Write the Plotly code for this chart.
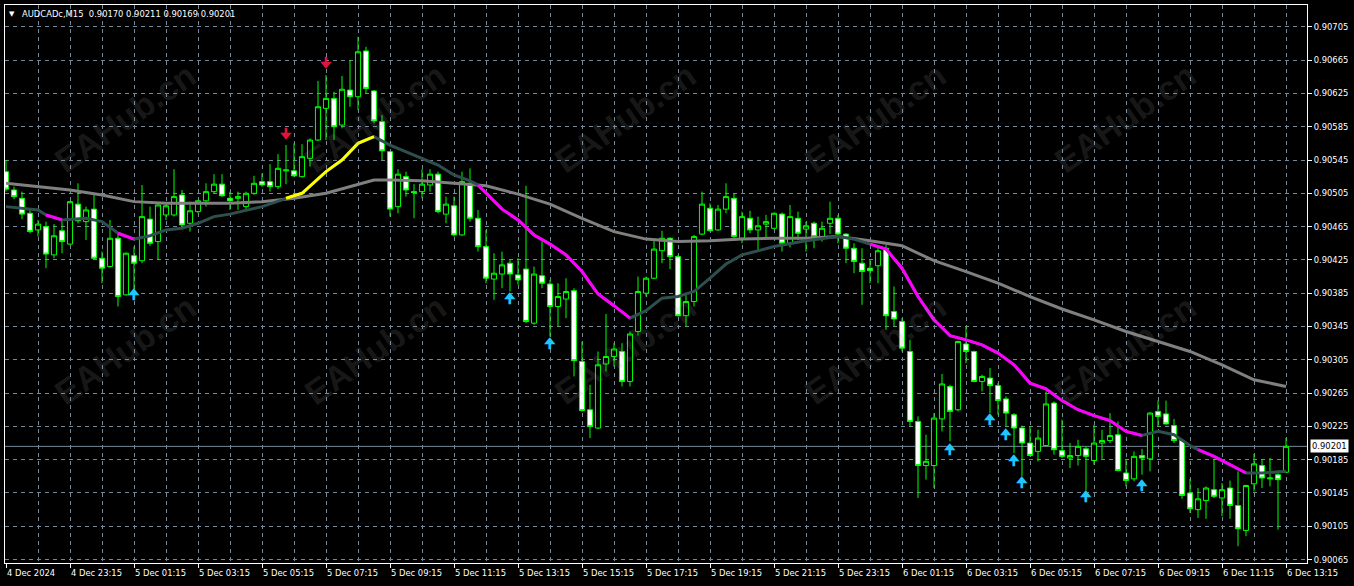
import plotly.graph_objects as go

symbol = "AUDCADc,M15"

opens = [0.90531,0.90509,0.90499,0.90481,0.90461,0.90465,0.90431,0.90460,0.90444,0.90492,
         0.90471,0.90486,0.90427,0.90417,0.90451,0.90383,0.90430,0.90424,0.90474,0.90447,
         0.90479,0.90479,0.90503,0.90469,0.90483,0.90496,0.90507,0.90516,0.90499,0.90499,
         0.90489,0.90505,0.90519,0.90519,0.90513,0.90532,0.90532,0.90525,0.90547,0.90569,
         0.90607,0.90619,0.90587,0.90629,0.90621,0.90676,0.90628,0.90591,0.90555,0.90489,
         0.90525,0.90507,0.90507,0.90515,0.90528,0.90480,0.90490,0.90455,0.90517,0.90475,
         0.90441,0.90402,0.90408,0.90421,0.90407,0.90414,0.90349,0.90406,0.90396,0.90369,
         0.90378,0.90388,0.90303,0.90245,0.90223,0.90300,0.90309,0.90315,0.90279,0.90339,
         0.90385,0.90403,0.90436,0.90451,0.90429,0.90358,0.90375,0.90456,0.90487,0.90461,
         0.90486,0.90499,0.90451,0.90475,0.90461,0.90468,0.90463,0.90480,0.90445,0.90475,
         0.90462,0.90469,0.90453,0.90469,0.90475,0.90456,0.90439,0.90421,0.90415,0.90418,
         0.90439,0.90363,0.90351,0.90315,0.90231,0.90178,0.90178,0.90234,0.90273,0.90245,
         0.90324,0.90315,0.90279,0.90283,0.90274,0.90258,0.90239,0.90223,0.90205,0.90195,
         0.90202,0.90253,0.90196,0.90187,0.90190,0.90198,0.90184,0.90205,0.90208,0.90215,
         0.90169,0.90162,0.90190,0.90186,0.90243,0.90240,0.90226,0.90208,0.90145,0.90125,
         0.90136,0.90149,0.90139,0.90151,0.90130,0.90100,0.90156,0.90178,0.90162,0.90167,
         0.90170]

highs = [0.90545,0.90513,0.90507,0.90485,0.90473,0.90471,0.90468,0.90473,0.90496,0.90517,
         0.90489,0.90504,0.90435,0.90473,0.90457,0.90434,0.90441,0.90515,0.90489,0.90492,
         0.90493,0.90534,0.90509,0.90495,0.90497,0.90517,0.90528,0.90528,0.90507,0.90507,
         0.90507,0.90526,0.90529,0.90540,0.90552,0.90563,0.90565,0.90564,0.90571,0.90640,
         0.90647,0.90627,0.90646,0.90665,0.90693,0.90681,0.90629,0.90599,0.90556,0.90534,
         0.90531,0.90516,0.90534,0.90534,0.90531,0.90501,0.90501,0.90531,0.90535,0.90485,
         0.90461,0.90433,0.90435,0.90425,0.90427,0.90514,0.90417,0.90447,0.90401,0.90397,
         0.90403,0.90391,0.90327,0.90275,0.90315,0.90360,0.90325,0.90325,0.90339,0.90405,
         0.90405,0.90449,0.90460,0.90452,0.90431,0.90385,0.90455,0.90507,0.90493,0.90491,
         0.90517,0.90505,0.90483,0.90484,0.90477,0.90479,0.90482,0.90482,0.90491,0.90483,
         0.90471,0.90471,0.90471,0.90495,0.90479,0.90457,0.90445,0.90439,0.90425,0.90443,
         0.90443,0.90393,0.90355,0.90329,0.90237,0.90215,0.90241,0.90288,0.90275,0.90328,
         0.90345,0.90316,0.90287,0.90295,0.90277,0.90261,0.90241,0.90226,0.90225,0.90221,
         0.90267,0.90255,0.90233,0.90205,0.90209,0.90201,0.90227,0.90221,0.90241,0.90231,
         0.90185,0.90195,0.90198,0.90242,0.90256,0.90256,0.90234,0.90210,0.90162,0.90151,
         0.90153,0.90185,0.90157,0.90160,0.90171,0.90155,0.90192,0.90185,0.90187,0.90172,
         0.90211]

lows = [0.90507,0.90498,0.90474,0.90457,0.90453,0.90415,0.90427,0.90433,0.90443,0.90469,
        0.90449,0.90426,0.90397,0.90416,0.90369,0.90382,0.90389,0.90421,0.90442,0.90425,
        0.90473,0.90477,0.90466,0.90459,0.90481,0.90489,0.90505,0.90501,0.90485,0.90485,
        0.90485,0.90503,0.90513,0.90507,0.90510,0.90516,0.90525,0.90524,0.90537,0.90568,
        0.90569,0.90569,0.90583,0.90609,0.90605,0.90625,0.90589,0.90545,0.90477,0.90481,
        0.90501,0.90475,0.90499,0.90507,0.90481,0.90469,0.90453,0.90454,0.90471,0.90435,
        0.90397,0.90377,0.90391,0.90387,0.90395,0.90349,0.90347,0.90391,0.90333,0.90345,
        0.90355,0.90285,0.90243,0.90211,0.90222,0.90291,0.90297,0.90273,0.90273,0.90334,
        0.90381,0.90402,0.90421,0.90414,0.90357,0.90345,0.90369,0.90455,0.90459,0.90460,
        0.90481,0.90451,0.90445,0.90457,0.90435,0.90451,0.90462,0.90435,0.90440,0.90449,
        0.90435,0.90439,0.90447,0.90456,0.90445,0.90421,0.90409,0.90371,0.90397,0.90397,
        0.90341,0.90345,0.90315,0.90225,0.90139,0.90161,0.90151,0.90219,0.90207,0.90243,
        0.90301,0.90278,0.90267,0.90241,0.90239,0.90225,0.90193,0.90165,0.90189,0.90183,
        0.90201,0.90191,0.90187,0.90175,0.90178,0.90148,0.90179,0.90186,0.90205,0.90171,
        0.90153,0.90159,0.90167,0.90171,0.90225,0.90227,0.90205,0.90138,0.90121,0.90115,
        0.90114,0.90139,0.90117,0.90114,0.90081,0.90093,0.90147,0.90151,0.90153,0.90101,
        0.90169]

closes = [0.90510,0.90501,0.90480,0.90459,0.90468,0.90432,0.90454,0.90447,0.90495,0.90472,
          0.90485,0.90427,0.90415,0.90451,0.90381,0.90433,0.90421,0.90477,0.90445,0.90491,
          0.90490,0.90501,0.90467,0.90484,0.90496,0.90507,0.90516,0.90502,0.90496,0.90501,
          0.90505,0.90517,0.90515,0.90513,0.90535,0.90533,0.90526,0.90549,0.90569,0.90609,
          0.90619,0.90585,0.90630,0.90621,0.90675,0.90631,0.90592,0.90556,0.90486,0.90528,
          0.90509,0.90506,0.90516,0.90528,0.90483,0.90492,0.90455,0.90519,0.90475,0.90441,
          0.90403,0.90409,0.90419,0.90408,0.90401,0.90351,0.90408,0.90397,0.90369,0.90381,
          0.90387,0.90304,0.90244,0.90225,0.90299,0.90309,0.90318,0.90279,0.90336,0.90387,
          0.90403,0.90438,0.90451,0.90429,0.90358,0.90375,0.90453,0.90492,0.90460,0.90486,
          0.90501,0.90453,0.90477,0.90461,0.90466,0.90471,0.90481,0.90445,0.90477,0.90457,
          0.90466,0.90453,0.90463,0.90475,0.90456,0.90439,0.90423,0.90411,0.90412,0.90436,
          0.90358,0.90354,0.90319,0.90231,0.90178,0.90183,0.90235,0.90276,0.90243,0.90327,
          0.90315,0.90279,0.90285,0.90274,0.90256,0.90241,0.90223,0.90205,0.90190,0.90211,
          0.90252,0.90197,0.90189,0.90190,0.90201,0.90189,0.90205,0.90208,0.90214,0.90172,
          0.90160,0.90189,0.90187,0.90241,0.90237,0.90228,0.90208,0.90142,0.90126,0.90138,
          0.90151,0.90141,0.90149,0.90130,0.90102,0.90154,0.90180,0.90163,0.90163,0.90161,
          0.90201]

# time axis labels, one every 8 bars (2 hours of M15)
time_labels = ["4 Dec 2024", "4 Dec 23:15", "5 Dec 01:15", "5 Dec 03:15", "5 Dec 05:15",
               "5 Dec 07:15", "5 Dec 09:15", "5 Dec 11:15", "5 Dec 13:15", "5 Dec 15:15",
               "5 Dec 17:15", "5 Dec 19:15", "5 Dec 21:15", "5 Dec 23:15", "6 Dec 01:15",
               "6 Dec 03:15", "6 Dec 05:15", "6 Dec 07:15", "6 Dec 09:15", "6 Dec 11:15",
               "6 Dec 13:15"]
label_every = 8
grid_every = 4

price_labels = ["0.90705", "0.90665", "0.90625", "0.90585", "0.90545", "0.90505", "0.90465",
                "0.90425", "0.90385", "0.90345", "0.90305", "0.90265", "0.90225", "0.90185",
                "0.90145", "0.90105", "0.90065"]

# slow moving average (grey), sampled at bar indices
slow_idx = [0,4,8,12,16,20,24,28,32,36,40,44,46,48,52,56,60,64,68,72,76,80,84,88,92,96,
            100,104,108,112,116,120,124,128,132,136,140,144,148,152,156,160]
slow_ma = [0.90517,0.90513,0.90509,0.90503,0.90495,0.90493,0.90493,0.90493,0.90495,0.90499,
           0.90505,0.90516,0.90521,0.90521,0.90520,0.90517,0.90514,0.90504,0.90492,0.90475,
           0.90459,0.90450,0.90447,0.90448,0.90450,0.90451,0.90451,0.90453,0.90448,0.90442,
           0.90424,0.90411,0.90397,0.90381,0.90366,0.90353,0.90339,0.90327,0.90315,0.90299,
           0.90281,0.90273]

# fast moving average, coloured by trend state
fast_idx = [0,4,5,7,10,12,14,16,18,20,22,24,26,28,32,35,37,40,42,44,46,48,50,52,54,56,58,59,
            60,62,64,66,68,70,72,74,76,78,80,82,84,86,88,90,92,96,100,104,106,108,110,112,
            114,116,118,120,122,124,126,128,130,132,134,136,138,140,142,144,146,148,149,151,
            153,155,157,160]
fast_ma = [0.90489,0.90485,0.90479,0.90473,0.90475,0.90471,0.90457,0.90450,0.90454,0.90461,
           0.90463,0.90469,0.90477,0.90480,0.90489,0.90499,0.90505,0.90531,0.90545,0.90565,
           0.90573,0.90563,0.90555,0.90547,0.90539,0.90527,0.90520,0.90515,0.90505,0.90486,
           0.90473,0.90455,0.90444,0.90431,0.90411,0.90384,0.90370,0.90355,0.90364,0.90379,
           0.90381,0.90387,0.90403,0.90420,0.90431,0.90441,0.90448,0.90453,0.90450,0.90444,
           0.90438,0.90415,0.90381,0.90353,0.90334,0.90329,0.90323,0.90313,0.90299,0.90277,
           0.90270,0.90256,0.90245,0.90238,0.90232,0.90219,0.90214,0.90219,0.90215,0.90202,
           0.90197,0.90189,0.90179,0.90169,0.90169,0.90171]
rising_ranges = [(35, 46)]
falling_ranges = [(5, 7), (14, 16), (59, 78), (108, 142), (149, 155)]

# signal arrows
buy_idx = [16, 63, 68, 118, 123, 125, 126, 127, 135, 142]
buy_price = [0.90382, 0.90378, 0.90323, 0.90196, 0.90232, 0.90214, 0.90183, 0.90157, 0.90139, 0.90153]
sell_idx = [35, 40]
sell_price = [0.90576, 0.90661]

watermark = "EAHub.cn"

# ---------------------------------------------------------------
GREEN = "#00FF00"
GRID = "#778899"
n = len(opens)
bars = list(range(n))

fig = go.Figure()
fig.add_trace(go.Candlestick(
    x=bars, open=opens, high=highs, low=lows, close=closes,
    increasing=dict(line=dict(color=GREEN, width=1), fillcolor="#000000"),
    decreasing=dict(line=dict(color=GREEN, width=1), fillcolor="#FFFFFF"),
    whiskerwidth=0, hoverinfo="skip", showlegend=False))

fig.add_trace(go.Scatter(x=slow_idx, y=slow_ma, mode="lines",
                         line=dict(color="#808080", width=3), hoverinfo="skip"))
fig.add_trace(go.Scatter(x=fast_idx, y=fast_ma, mode="lines",
                         line=dict(color="#2F4F4F", width=3), hoverinfo="skip"))


def segment(a, b):
    xs = [i for i in fast_idx if a <= i <= b]
    ys = [fast_ma[fast_idx.index(i)] for i in xs]
    return xs, ys


for a, b in rising_ranges:
    xs, ys = segment(a, b)
    fig.add_trace(go.Scatter(x=xs, y=ys, mode="lines",
                             line=dict(color="#FFFF00", width=3), hoverinfo="skip"))
for a, b in falling_ranges:
    xs, ys = segment(a, b)
    fig.add_trace(go.Scatter(x=xs, y=ys, mode="lines",
                             line=dict(color="#FF00FF", width=3), hoverinfo="skip"))

fig.add_trace(go.Scatter(x=buy_idx, y=buy_price, mode="text", text=["🠉"] * len(buy_idx),
                         textposition="middle center",
                         textfont=dict(family="DejaVu Sans", size=14, color="#1EC8FF", weight="bold"),
                         hoverinfo="skip"))
fig.add_trace(go.Scatter(x=sell_idx, y=sell_price, mode="text", text=["🠋"] * len(sell_idx),
                         textposition="middle center",
                         textfont=dict(family="DejaVu Sans", size=14, color="#E0143C", weight="bold"),
                         hoverinfo="skip"))

FONT = "DejaVu Sans"
FS = 8.4

annotations = []
for k, lab in enumerate(time_labels):
    annotations.append(dict(x=k * label_every, y=0, xref="x", yref="paper", text=lab,
                            showarrow=False, xanchor="left", yanchor="top", yshift=-3,
                            xshift=-1, font=dict(family=FONT, size=FS, color="white")))

title = "%s  %.5f %.5f %.5f %.5f" % (symbol, opens[-1], highs[-1], lows[-1], closes[-1])
annotations.append(dict(x=0, y=1, xref="paper", yref="paper", text=title, showarrow=False,
                        xanchor="left", yanchor="top", xshift=15, yshift=-2,
                        font=dict(family=FONT, size=FS, color="white")))
annotations.append(dict(x=0, y=1, xref="paper", yref="paper", text="▼", showarrow=False,
                        xanchor="left", yanchor="top", xshift=2, yshift=-3,
                        font=dict(family=FONT, size=7, color="white")))
annotations.append(dict(x=1, y=closes[-1], xref="paper", yref="y", text="%.5f" % closes[-1],
                        showarrow=False, xanchor="left", yanchor="middle", xshift=3,
                        bgcolor="white", borderpad=1,
                        font=dict(family=FONT, size=FS, color="black")))

wm_x = [0.092, 0.284, 0.476, 0.668, 0.860]
wm_y = [0.7975, 0.382]
for yy in wm_y:
    for xx in wm_x:
        annotations.append(dict(x=xx, y=yy, xref="paper", yref="paper", text=watermark,
                                showarrow=False, textangle=-35,
                                xanchor="center", yanchor="middle",
                                font=dict(family="Liberation Sans", size=34,
                                          color="rgba(150,150,150,0.18)", weight="bold")))

fig.update_layout(
    width=1354, height=586,
    margin=dict(l=5, r=47, t=5, b=23),
    paper_bgcolor="black", plot_bgcolor="black",
    showlegend=False,
    boxgap=0.36, boxgroupgap=0,
    annotations=annotations,
    shapes=[dict(type="line", xref="paper", x0=0, x1=1, yref="y",
                 y0=closes[-1], y1=closes[-1], line=dict(color=GRID, width=1), layer="below")],
    xaxis=dict(range=[-0.125, 162.625], rangeslider=dict(visible=False),
               tickmode="array", tickvals=[k * label_every for k in range(len(time_labels))],
               showticklabels=False, ticks="outside", ticklen=4, tickcolor="white",
               showgrid=True, gridcolor=GRID, griddash="4px,4px", gridwidth=1,
               minor=dict(tickmode="array", tickvals=list(range(0, n, grid_every)),
                          showgrid=True, gridcolor=GRID, griddash="4px,4px", ticks=""),
               showline=True, linecolor="white", linewidth=1, mirror=True, zeroline=False,
               fixedrange=True),
    yaxis=dict(range=[0.900609, 0.907312], side="right",
               tickmode="array", tickvals=[float(p) for p in price_labels], ticktext=price_labels,
               ticks="outside", ticklen=4, tickcolor="white",
               tickfont=dict(family=FONT, size=FS, color="white"),
               showgrid=True, gridcolor=GRID, griddash="4px,4px", gridwidth=1,
               showline=True, linecolor="white", linewidth=1, mirror=True, zeroline=False,
               fixedrange=True),
)

fig.write_html("out.html", config={"displayModeBar": False},
               post_script="document.body.style.margin='0px';document.body.style.background='black';")
